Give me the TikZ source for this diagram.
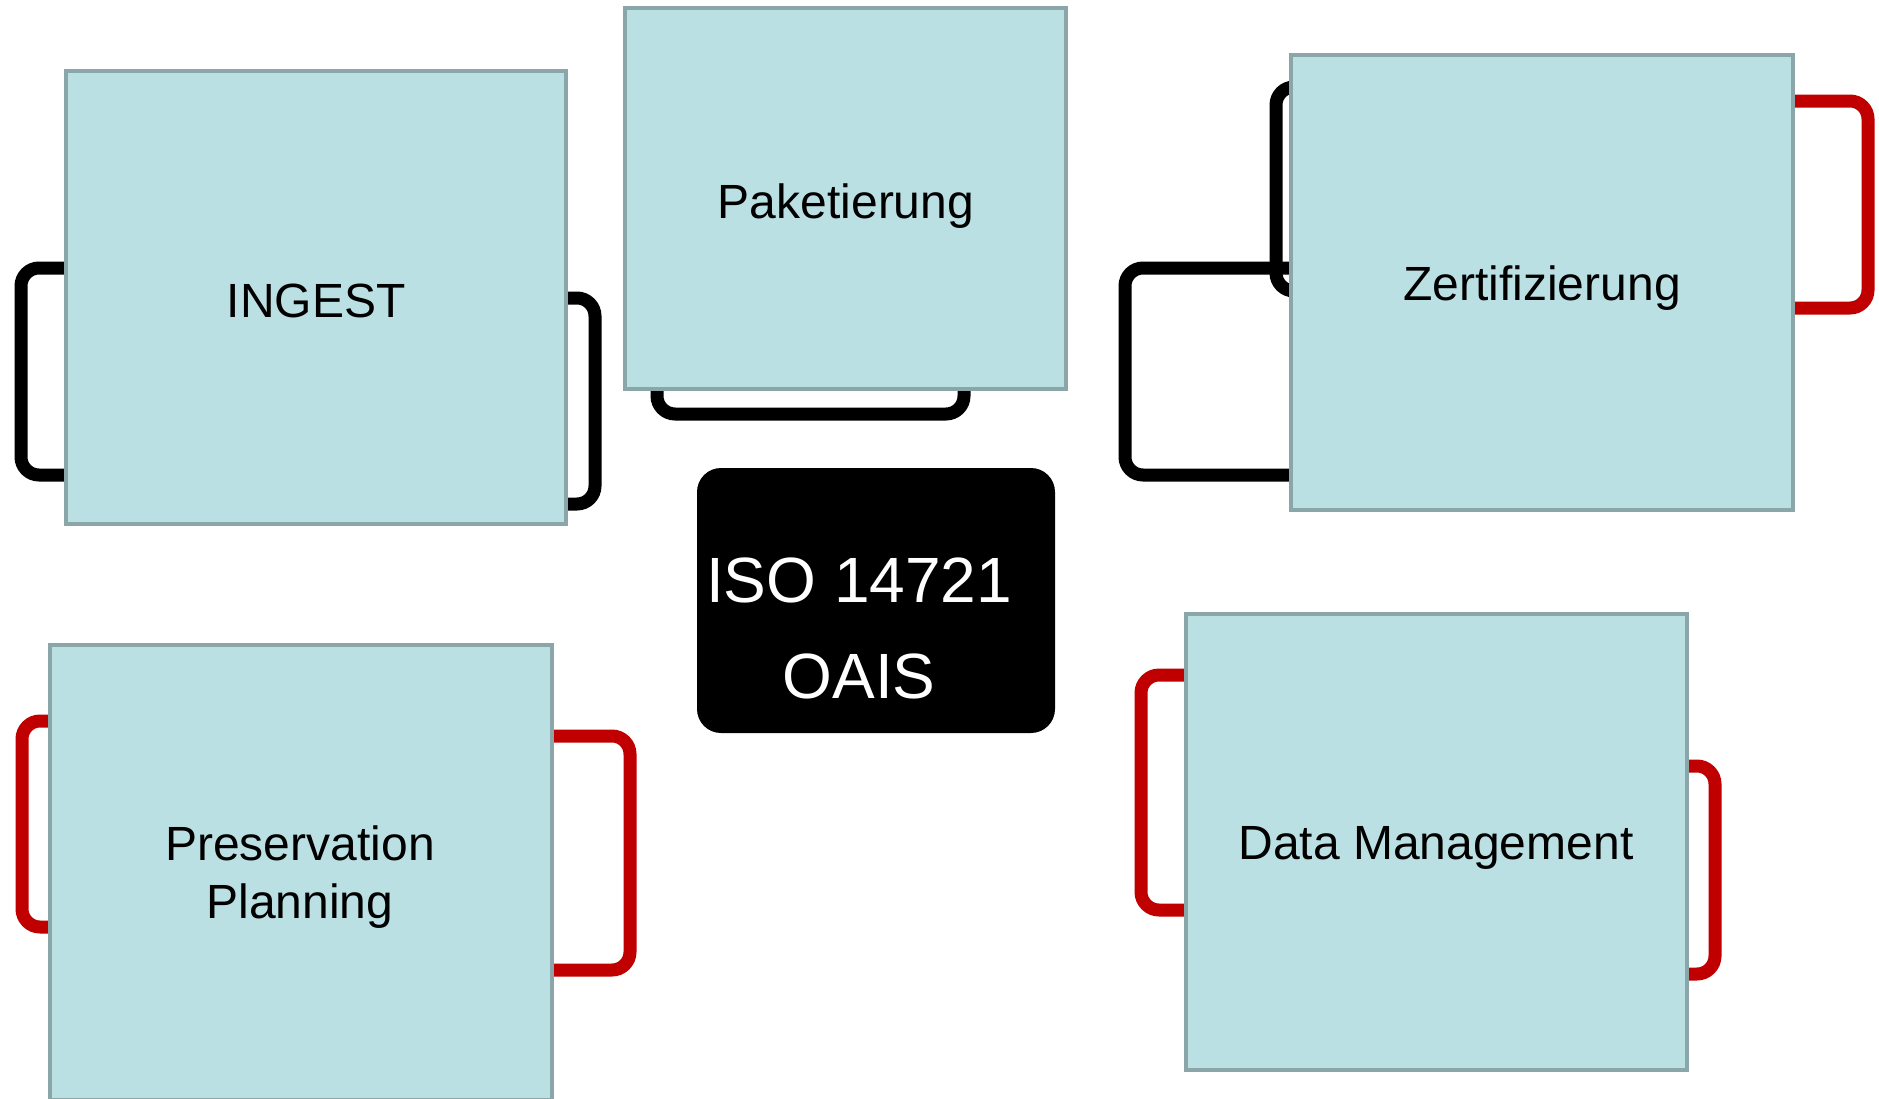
\documentclass[tikz,border=0pt]{standalone}
\usepackage{fontspec}
\setmainfont{Liberation Sans}
\definecolor{boxfill}{HTML}{BBE0E3}
\definecolor{boxline}{HTML}{8AA6A9}
\definecolor{bred}{HTML}{C00000}
\tikzset{
  box/.style={draw=boxline, fill=boxfill, line width=2pt, inner sep=0pt, rectangle},
  bk/.style={line width=6.5pt, rounded corners=9pt, black},
  rd/.style={line width=6.5pt, rounded corners=9pt, bred},
  lbl/.style={font=\fontsize{24}{28.75}\selectfont, anchor=base, align=center, inner sep=0pt},
  isolbl/.style={font=\fontsize{32}{48}\selectfont, anchor=base, align=center, inner sep=0pt, text=white}
}
\begin{document}
\begin{tikzpicture}[x=0.5pt,y=-0.5pt]
\useasboundingbox (0,0) rectangle (1879,1098);
% box shapes (coordinates only for anchors)
\path (316,297.5) node[box, draw=none, fill=none, minimum width=250pt, minimum height=226.5pt] (ingest) {};
\path (845.5,198.5) node[box, draw=none, fill=none, minimum width=220.5pt, minimum height=190.5pt] (paket) {};
\path (1542,282.5) node[box, draw=none, fill=none, minimum width=251pt, minimum height=227.5pt] (zert) {};
\path (301,872.5) node[box, draw=none, fill=none, minimum width=251pt, minimum height=227.5pt] (pres) {};
\path (1436.5,842) node[box, draw=none, fill=none, minimum width=250.5pt, minimum height=228pt] (dm) {};
% brackets
\draw[bk] (ingest.west |- 0,268) -- (21,268) -- (21,475) -- (ingest.west |- 0,475);
\draw[bk] (ingest.east |- 0,298) -- (595,298) -- (595,504) -- (ingest.east |- 0,504);
\draw[bk] (paket.south -| 657,0) -- (657,414) -- (964,414) -- (paket.south -| 964,0);
\draw[bk] (zert.west |- 0,268) -- (1125,268) -- (1125,475) -- (zert.west |- 0,475);
\draw[bk] (zert.west |- 0,87) -- (1276,87) -- (1276,291) -- (zert.west |- 0,291);
\draw[rd] (zert.east |- 0,101) -- (1868,101) -- (1868,308) -- (zert.east |- 0,308);
\draw[rd] (pres.west |- 0,721) -- (22,721) -- (22,927) -- (pres.west |- 0,927);
\draw[rd] (pres.east |- 0,736) -- (630,736) -- (630,970) -- (pres.east |- 0,970);
\draw[rd] (dm.west |- 0,675) -- (1141,675) -- (1141,910) -- (dm.west |- 0,910);
\draw[rd] (dm.east |- 0,766) -- (1715,766) -- (1715,974) -- (dm.east |- 0,974);
% boxes on top
\path (316,297.5) node[box, minimum width=250pt, minimum height=226.5pt] (ingestbox) {};
\path (845.5,198.5) node[box, minimum width=220.5pt, minimum height=190.5pt] (paketbox) {};
\path (1542,282.5) node[box, minimum width=251pt, minimum height=227.5pt] (zertbox) {};
\path (301,872.5) node[box, minimum width=251pt, minimum height=227.5pt] (presbox) {};
\path (1436.5,842) node[box, minimum width=250.5pt, minimum height=228pt] (dmbox) {};
\node[fill=black, rounded corners=12pt, minimum width=179pt, minimum height=132.5pt, inner sep=0pt] (iso) at (876,600.5) {};
% labels
\node[lbl] (tingest) at (316,317) {INGEST};
\node[lbl] (tpaket) at (846,218) {Paketierung};
\node[lbl] (tzert) at (1542,300) {Zertifizierung};
\node[lbl] (tpres) at (300,918) {Preservation\\Planning};
\node[lbl] (tdm) at (1436,859) {Data Management};
\node[isolbl] (tiso) at (859,698) {ISO 14721\\OAIS};
\end{tikzpicture}
\end{document}
